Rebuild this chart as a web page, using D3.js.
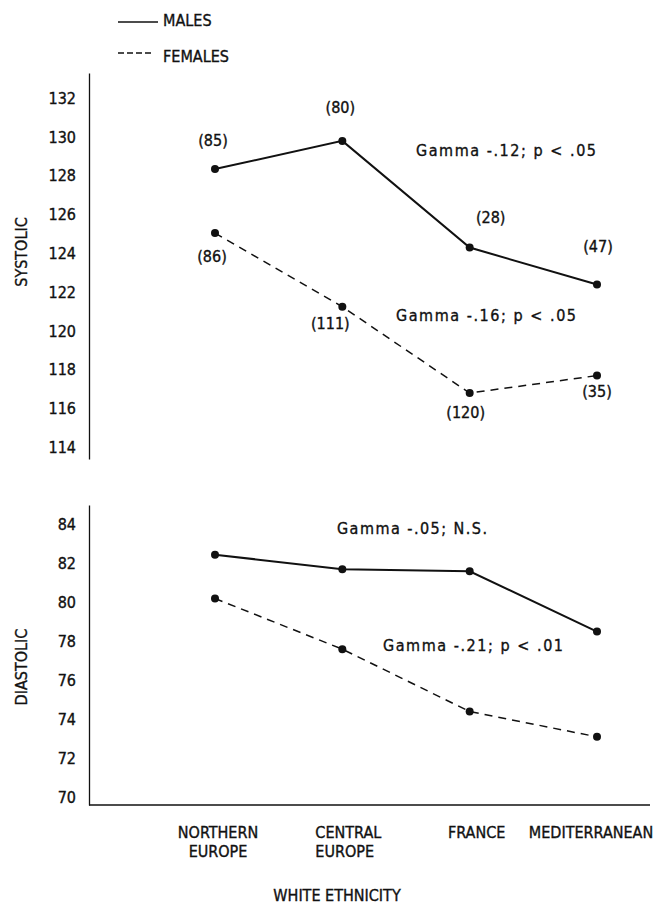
<!DOCTYPE html>
<html>
<head>
<meta charset="utf-8">
<script src="https://cdn.jsdelivr.net/npm/d3@7"></script>
<style>
  body { margin: 0; background: #fff; }
  text { font-family: "DejaVu Sans Condensed", "DejaVu Sans", sans-serif; fill: #111; stroke: #111; stroke-width: 0.35px; }
</style>
</head>
<body>
<div id="chart"></div>
<script>
'use strict';
// categories and values
var regions = ["NORTHERN EUROPE", "CENTRAL EUROPE", "FRANCE", "MEDITERRANEAN"];
var systolicMales = [128.35, 129.8, 124.3, 122.4];
var systolicFemales = [125.05, 121.25, 116.8, 117.7];
var diastolicMales = [82.45, 81.7, 81.6, 78.5];
var diastolicFemales = [80.2, 77.6, 74.4, 73.1];
var malesN = [85, 80, 28, 47];
var femalesN = [86, 111, 120, 35];
var systolicTicks = [114, 116, 118, 120, 122, 124, 126, 128, 130, 132];
var diastolicTicks = [70, 72, 74, 76, 78, 80, 82, 84];

var width = 661, height = 919;

var svg = d3.select("#chart").append("svg")
    .attr("width", width)
    .attr("height", height);

var x = d3.scalePoint()
    .domain(regions)
    .range([215, 597]);

// the two panels
var ySys = d3.scaleLinear().domain([113.4, 133.3]).range([459, 73]);
var yDia = d3.scaleLinear().domain([69.6, 85.0]).range([805, 505]);

function yAxis(scale, ticks) {
    var g = svg.append("g")
        .attr("transform", "translate(89,0)")
        .call(d3.axisLeft(scale).tickValues(ticks).tickSize(0).tickPadding(13).tickSizeOuter(0));
    g.select(".domain").attr("stroke", "#111").attr("stroke-width", 1.3);
    g.selectAll("text").attr("font-size", 16).attr("fill", "#111");
    return g;
}
yAxis(ySys, systolicTicks);
yAxis(yDia, diastolicTicks);

// x axis along the bottom panel
svg.append("line")
    .attr("x1", 89).attr("x2", 650)
    .attr("y1", yDia(69.6)).attr("y2", yDia(69.6))
    .attr("stroke", "#111").attr("stroke-width", 1.3);

var xLabels = svg.append("g")
    .attr("transform", "translate(0,838)")
    .call(d3.axisBottom(x).tickSize(0).tickPadding(0));
xLabels.select(".domain").remove();
xLabels.selectAll("text").each(function (d) {
    var t = d3.select(this).text("")
        .attr("font-size", 16).attr("dy", "0.35em")
        .attr("y", 0);
    var parts = d === "MEDITERRANEAN" ? [d] : d.split(" ");
    parts.forEach(function (p, i) {
        t.append("tspan").attr("x", 0).attr("dy", i === 0 ? 0 : 19).text(p);
    });
});
// CENTRAL / EUROPE is set flush left in the original
xLabels.selectAll("text")
    .filter(function (d) { return d === "CENTRAL EUROPE"; })
    .attr("text-anchor", "start");
var xNudge = { "NORTHERN EUROPE": 3, "CENTRAL EUROPE": -27, "FRANCE": 7, "MEDITERRANEAN": -6 };
xLabels.selectAll(".tick").attr("transform", function (d) {
    return "translate(" + (x(d) + xNudge[d]) + ",0)";
});

svg.append("text")
    .attr("x", 337).attr("y", 895).attr("dy", "0.35em")
    .attr("text-anchor", "middle").attr("font-size", 16)
    .text("WHITE ETHNICITY");

svg.append("text")
    .attr("transform", "translate(21,252) rotate(-90)")
    .attr("dy", "0.35em").attr("text-anchor", "middle").attr("font-size", 16)
    .text("SYSTOLIC");
svg.append("text")
    .attr("transform", "translate(21,667) rotate(-90)")
    .attr("dy", "0.35em").attr("text-anchor", "middle").attr("font-size", 16)
    .text("DIASTOLIC");

function series(values, scale, dashed) {
    var line = d3.line()
        .x(function (d, i) { return x(regions[i]); })
        .y(function (d) { return scale(d); });
    svg.append("path")
        .datum(values)
        .attr("d", line)
        .attr("fill", "none")
        .attr("stroke", "#111")
        .attr("stroke-width", dashed ? 1.5 : 2)
        .attr("stroke-dasharray", dashed ? "8,6" : null);
    svg.selectAll(null)
        .data(values)
        .enter().append("circle")
        .attr("cx", function (d, i) { return x(regions[i]); })
        .attr("cy", function (d) { return scale(d); })
        .attr("r", 4)
        .attr("fill", "#111");
}
series(systolicMales, ySys, false);
series(systolicFemales, ySys, true);
series(diastolicMales, yDia, false);
series(diastolicFemales, yDia, true);

// sample sizes next to the systolic points
var maleLabelOffset = [[-2, -29], [-2, -33], [21, -30], [1, -38]];
var femaleLabelOffset = [[-3, 23], [-12, 17], [-4, 19], [0, 16]];
function counts(ns, values, offsets) {
    svg.selectAll(null)
        .data(ns)
        .enter().append("text")
        .attr("x", function (d, i) { return x(regions[i]) + offsets[i][0]; })
        .attr("y", function (d, i) { return ySys(values[i]) + offsets[i][1]; })
        .attr("dy", "0.35em")
        .attr("text-anchor", "middle")
        .attr("font-size", 16)
        .text(function (d) { return "(" + d + ")"; });
}
counts(malesN, systolicMales, maleLabelOffset);
counts(femalesN, systolicFemales, femaleLabelOffset);

// gamma notes
var notes = [
    { text: "Gamma -.12; p < .05", x: 416, y: 150, w: 180 },
    { text: "Gamma -.16; p < .05", x: 396, y: 315, w: 180 },
    { text: "Gamma -.05; N.S.", x: 337, y: 528, w: 150 },
    { text: "Gamma -.21; p < .01", x: 383, y: 645, w: 180 }
];
svg.selectAll(null)
    .data(notes)
    .enter().append("text")
    .attr("x", function (d) { return d.x; })
    .attr("y", function (d) { return d.y; })
    .attr("dy", "0.35em")
    .attr("font-size", 16)
    .attr("textLength", function (d) { return d.w; })
    .attr("lengthAdjust", "spacing")
    .text(function (d) { return d.text; });

// legend
var legend = svg.append("g");
legend.append("line")
    .attr("x1", 118).attr("x2", 158).attr("y1", 22).attr("y2", 22)
    .attr("stroke", "#111").attr("stroke-width", 1.5);
legend.append("line")
    .attr("x1", 118).attr("x2", 151).attr("y1", 53).attr("y2", 53)
    .attr("stroke", "#111").attr("stroke-width", 1.5)
    .attr("stroke-dasharray", "6,3");
legend.append("text")
    .attr("x", 163).attr("y", 20).attr("dy", "0.35em").attr("font-size", 16)
    .text("MALES");
legend.append("text")
    .attr("x", 163).attr("y", 56).attr("dy", "0.35em").attr("font-size", 16)
    .text("FEMALES");
</script>
</body>
</html>
